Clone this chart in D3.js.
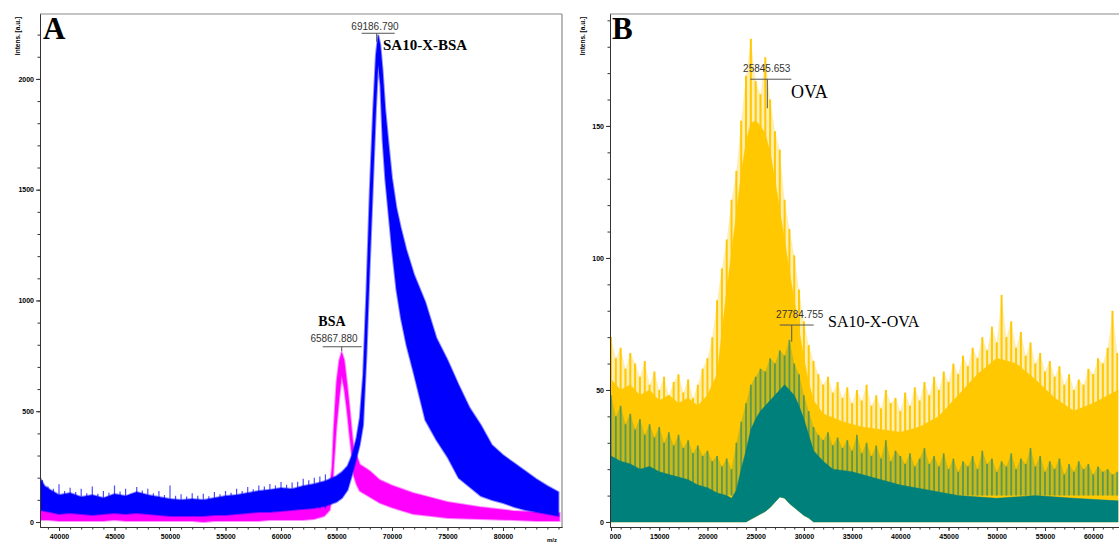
<!DOCTYPE html>
<html>
<head>
<meta charset="utf-8">
<script src="https://cdn.jsdelivr.net/npm/d3@7"></script>
<style>
  html, body { margin: 0; padding: 0; background: #fff; }
  svg { display: block; }
  .tick text { font-family: "Liberation Sans", Arial, sans-serif; font-size: 7px; font-weight: bold; fill: #000; }
  .axis path, .axis line { stroke: #333; }
</style>
</head>
<body>
<svg id="chart" width="1119" height="543"></svg>
<script>
// Data (panel A: BSA vs SA10-X-BSA, noise band low/high edges)
// ****
const blueMz = [38300, 38700, 39200, 40000, 41000, 42000, 43000, 44000, 45000, 46000, 47000, 48000, 49000, 50000, 51000, 52000, 53000, 54000, 55000, 56000, 57000, 58000, 59000, 60000, 61000, 62000, 63000, 64000, 65000, 65500, 66000, 66400, 66800, 67100, 67400, 67700, 68000, 68300, 68550, 68750, 68950, 69150, 69400, 69700, 70000, 70400, 70800, 71300, 72000, 73000, 74000, 75000, 76000, 77000, 78000, 79000, 80000, 81000, 82000, 83000, 84000, 85000]
const blueHi = [199, 163, 145, 122, 131, 113, 122, 108, 126, 117, 135, 122, 113, 104, 99, 104, 99, 108, 117, 122, 131, 140, 145, 153, 149, 163, 172, 185, 208, 226, 253, 302, 379, 470, 664, 1047, 1499, 1860, 2108, 2199, 2154, 2041, 1860, 1702, 1553, 1418, 1327, 1228, 1115, 993, 831, 731, 619, 515, 438, 348, 302, 266, 230, 194, 163, 135]
const blueLo = [54, 50, 45, 36, 41, 36, 32, 36, 41, 36, 41, 36, 32, 27, 27, 27, 27, 32, 32, 36, 41, 45, 45, 50, 54, 59, 63, 72, 90, 108, 144, 212, 289, 348, 438, 754, 1160, 1544, 1860, 2063, 1973, 1725, 1544, 1386, 1228, 1047, 921, 799, 664, 460, 370, 293, 199, 158, 117, 99, 86, 68, 54, 45, 36, 27]
// blue spike tips on the flat part, every 500 Da from 38500 to 64000
const blueSpikeMz = d3.range(38500, 64001, 500)
const blueSpike = [190, 160, 150, 170, 140, 155, 135, 150, 130, 160, 128, 140, 132, 165, 138, 150, 128, 158, 142, 150, 130, 140, 122, 165, 118, 125, 115, 130, 118, 128, 116, 135, 125, 140, 132, 150, 140, 158, 148, 165, 160, 172, 165, 180, 168, 178, 182, 195, 188, 200, 205, 215]

const bsaMz = [38300, 39000, 40000, 41000, 42000, 43000, 44000, 45000, 46000, 47000, 48000, 49000, 50000, 51000, 52000, 53000, 54000, 55000, 56000, 57000, 58000, 59000, 60000, 61000, 62000, 63000, 63900, 64400, 64600, 64750, 65000, 65250, 65470, 65700, 65950, 66200, 66400, 66550, 66800, 67100, 68000, 68900, 70000, 71900, 73500, 75000, 77900, 80900, 83000, 85100]
const bsaHi = [108, 90, 72, 63, 68, 59, 63, 72, 63, 68, 59, 63, 59, 54, 59, 54, 63, 59, 63, 68, 68, 72, 77, 77, 81, 90, 99, 158, 250, 420, 630, 730, 767, 730, 625, 505, 400, 325, 302, 260, 230, 190, 165, 131, 110, 90, 68, 50, 45, 41]
const bsaLo = [9, 9, 5, 5, 5, 5, 5, 9, 5, 5, 5, 5, 5, 5, 5, 0, 5, 5, 5, 5, 5, 9, 9, 9, 9, 14, 27, 54, 120, 250, 430, 560, 660, 600, 500, 380, 290, 210, 170, 140, 113, 86, 65, 36, 27, 18, 14, 9, 5, 5]

// Data (panel B: OVA vs SA10-X-OVA, dense body + spike tips)
// ****
const ovaMz = [10000, 11000, 12000, 13000, 14000, 15000, 16000, 17000, 18000, 19000, 20000, 21000, 21500, 22000, 22500, 23000, 23500, 24000, 24500, 25000, 25500, 26000, 26500, 27000, 27500, 28000, 28500, 29000, 29500, 30000, 30500, 31000, 32000, 34000, 36000, 38000, 40000, 42000, 44000, 46000, 48000, 50000, 52000, 54000, 56000, 58000, 60000, 62600]
const ovaBody = [54, 50, 52, 48, 50, 46, 48, 45, 47, 44, 48, 56, 72, 88, 102, 117, 132, 144, 151, 152, 150, 147, 140, 130, 118, 107, 95, 84, 73, 62, 53, 46, 41, 38, 36, 35, 34, 36, 40, 48, 56, 62, 60, 54, 47, 42, 45, 50]
const ovaLo = [0, 0, 0, 0, 0, 0, 0, 0, 0, 0, 0, 0, 0, 0, 0, 0, 0, 0, 1, 2, 3, 4, 5.5, 7.5, 9.5, 9, 7, 5.5, 4, 2.5, 1.5, 0, 0, 0, 0, 0, 0, 0, 0, 0, 0, 0, 0, 0, 0, 0, 0, 0]

const ovxMz = [10000, 11000, 12000, 13000, 14000, 15000, 16000, 17000, 18000, 19000, 20000, 21000, 22000, 22500, 23000, 23500, 24000, 24500, 25000, 25500, 26000, 26500, 27000, 27500, 28000, 28500, 29000, 29500, 30000, 30500, 31000, 32000, 33000, 35000, 38000, 40000, 43000, 46000, 50000, 54000, 58000, 62600]
const ovxBody = [25, 23, 22, 20, 21, 19, 18, 17, 16, 14, 13, 11, 10, 9, 12, 20, 27, 35, 39, 42, 44, 46, 48, 50, 52, 50, 48, 44, 39, 33, 27, 23, 20, 19, 16, 14, 12, 10, 9, 10, 9, 8]
const ovxLo = [0, 0, 0, 0, 0, 0, 0, 0, 0, 0, 0, 0, 0, 0, 0, 0, 0, 1, 2, 3, 4, 5.5, 7.5, 9.5, 9, 7, 5.5, 4, 2.5, 1.5, 0, 0, 0, 0, 0, 0, 0, 0, 0, 0, 0, 0]

// spike tips, one every 500 Da from 10000 to 62500
const spikeMz = d3.range(10000, 62501, 500)
const ovaSpike = [70, 62, 66, 58, 64, 60, 55, 61, 52, 57, 50, 55, 48, 53, 56, 49, 54, 47, 52, 58, 62, 70, 84, 96, 107, 122, 133, 152, 169, 183, 167, 162, 176, 160, 148, 141, 122, 111, 101, 88, 76, 67, 61, 56, 52, 55, 49, 53, 47, 51, 45, 50, 46, 52, 44, 48, 43, 50, 45, 47, 42, 49, 44, 51, 46, 53, 48, 55, 50, 57, 53, 60, 56, 63, 59, 66, 62, 70, 65, 74, 68, 86, 70, 76, 66, 72, 63, 68, 60, 64, 57, 61, 55, 59, 52, 56, 50, 54, 52, 58, 56, 62, 60, 66, 80, 64]
const ovxSpike = [48, 40, 44, 37, 41, 35, 39, 33, 37, 32, 36, 30, 34, 29, 33, 28, 31, 26, 29, 25, 27, 23, 25, 21, 24, 20, 30, 38, 45, 52, 55, 58, 57, 62, 60, 65, 63, 69, 60, 56, 48, 42, 36, 33, 31, 34, 29, 32, 28, 31, 27, 33, 26, 30, 25, 29, 24, 31, 23, 27, 25, 22, 26, 21, 24, 28, 22, 25, 21, 26, 20, 24, 19, 23, 21, 25, 20, 27, 22, 24, 19, 23, 21, 26, 20, 24, 22, 28, 21, 25, 19, 23, 20, 24, 18, 22, 19, 23, 20, 22, 18, 21, 19, 20, 18, 19]

// Peak annotations
const peakLabels = ["69186.790", "65867.880", "25845.653", "27784.755"]
const peakNames = ["SA10-X-BSA", "BSA", "OVA", "SA10-X-OVA"]
const peakMarkMz = [68620, 65470, 26210, 28740]
const peakLevel = [2206, 791, 167.7, 74.6]
const peakTickEnd = [2168, 772, 156.7, 68.3]

// Ticks
const ticksA_y = [0, 500, 1000, 1500, 2000]
const ticksA_x = [40000, 45000, 50000, 55000, 60000, 65000, 70000, 75000, 80000]
const ticksB_y = [0, 50, 100, 150]
const ticksB_x = [10000, 15000, 20000, 25000, 30000, 35000, 40000, 45000, 50000, 55000, 60000]

const zip = (mz, hi, lo) => mz.map((m, i) => ({mz: m, hi: hi[i], lo: lo[i]}))

const svg = d3.select("#chart")

// Panel builder
// *************
function panel(id, box, xDom, yDom, majX, minX, majY, minY) {
  const x = d3.scaleLinear().domain(xDom).range([box.left, box.right])
  const y = d3.scaleLinear().domain(yDom).range([box.bottom, box.top])
  const g = svg.append("g")

  g.append("clipPath").attr("id", "clip" + id)
    .append("rect")
      .attr("x", box.left + 0.5).attr("y", box.top)
      .attr("width", box.right - box.left - 1).attr("height", box.bottom - box.top - 1)

  const plot = g.append("g").attr("clip-path", "url(#clip" + id + ")")

  // frame (top + right)
  g.append("line").attr("x1", box.left).attr("x2", box.right).attr("y1", box.top).attr("y2", box.top)
    .attr("stroke", "#8a8a8a").attr("stroke-width", 1.2)
  if (box.frameRight) {
    g.append("line").attr("x1", box.right).attr("x2", box.right).attr("y1", box.top).attr("y2", box.bottom)
      .attr("stroke", "#8a8a8a").attr("stroke-width", 1.2)
  }

  // left axis
  g.append("g").attr("class", "axis")
    .attr("transform", "translate(" + box.left + ",0)")
    .call(d3.axisLeft(y).tickValues(minY).tickSize(2.5).tickSizeOuter(0).tickFormat(""))
  g.append("g").attr("class", "axis")
    .attr("transform", "translate(" + box.left + ",0)")
    .call(d3.axisLeft(y).tickValues(majY).tickSize(4).tickSizeOuter(0).tickPadding(2).tickFormat(d3.format("d")))

  // bottom axis
  g.append("g").attr("class", "axis")
    .attr("transform", "translate(0," + box.bottom + ")")
    .call(d3.axisBottom(x).tickValues(minX).tickSize(2.5).tickSizeOuter(0).tickFormat(""))
  const bx = g.append("g").attr("class", "axis")
    .attr("transform", "translate(0," + box.bottom + ")")
    .call(d3.axisBottom(x).tickValues(majX).tickSize(4).tickSizeOuter(0).tickPadding(3).tickFormat(d3.format("d")))
  if (box.clipLabels) {
    // labels are cut at the frame edge, as in the scanned figure
    g.append("clipPath").attr("id", "lab" + id)
      .append("rect").attr("x", box.left).attr("y", -2).attr("width", 600).attr("height", 20)
    bx.attr("clip-path", "url(#lab" + id + ")")
  }

  // y label
  g.append("text")
    .attr("transform", "translate(" + box.labelX + ",36) rotate(-90)")
    .attr("text-anchor", "middle")
    .style("font-family", "Liberation Sans, Arial, sans-serif")
    .style("font-size", "6.5px").style("font-weight", "bold")
    .text("Intens. [a.u.]")

  return {x, y, g, plot}
}

const A = panel("A", {left: 40, right: 562, top: 14, bottom: 527, frameRight: true, labelX: 20},
  [38288, 85315], [-22.6, 2293], ticksA_x, d3.range(39000, 85001, 1000), ticksA_y, d3.range(0, 2201, 100))
const B = panel("B", {left: 610, right: 1119, top: 14, bottom: 527, clipLabels: true, labelX: 585},
  [9896, 62675], [-1.9, 192.4], ticksB_x, d3.range(10000, 62001, 1000), ticksB_y, d3.range(0, 191, 10))

// Spectra
// *******
function band(p, data, color, edge) {
  const area = d3.area().x(d => p.x(d.mz)).y0(d => p.y(d.lo)).y1(d => p.y(d.hi))
  p.plot.append("path").datum(data).attr("d", area).attr("fill", color)
    .attr("stroke", color).attr("stroke-width", edge).attr("stroke-opacity", 0.45)
}
function spikes(p, mz, tips, base, color, opacity, w, halo) {
  const pts = mz.map((m, i) => ({mz: m, v: tips[i]}))
  if (halo) {
    // faint cloud joining the spike tips
    const area = d3.area().x(d => p.x(d.mz)).y0(p.y(base)).y1(d => p.y(d.v))
    p.plot.append("path").datum(pts).attr("d", area).attr("fill", color).attr("fill-opacity", halo)
  }
  p.plot.selectAll(null).data(pts)
    .enter().append("line")
      .attr("x1", d => p.x(d.mz)).attr("x2", d => p.x(d.mz))
      .attr("y1", p.y(base)).attr("y2", d => p.y(d.v))
      .attr("stroke", color).attr("stroke-width", w).attr("stroke-opacity", opacity)
}

band(A, zip(bsaMz, bsaHi, bsaLo), "#ff00ff", 2)
spikes(A, blueSpikeMz, blueSpike, 60, "#2020ff", 0.8, 1.2, 0)
band(A, zip(blueMz, blueHi, blueLo), "#0000ff", 2)

spikes(B, spikeMz, ovaSpike, 10, "#ffc800", 1, 2, 0.3)
band(B, zip(ovaMz, ovaBody, ovaLo), "#ffc800", 1)
spikes(B, spikeMz, ovxSpike, 10, "#00807a", 0.55, 1.8, 0.22)
band(B, zip(ovxMz, ovxBody, ovxLo), "#00807a", 1)

// Annotations
// ***********
const annLayout = [
  {p: A, l: -15, r: 18, tx: -1.7, ty: -3.3, nx: 6.3, ny: 16.7, font: "bold 15px"},
  {p: A, l: -19, r: 20, tx: -7.7, ty: -5, nx: -23.4, ny: -20.7, font: "bold 14px"},
  {p: B, l: -17, r: 24, tx: -0.6, ty: -7.6, nx: 23.7, ny: 18.7, font: "18px"},
  {p: B, l: -12, r: 22, tx: 8, ty: -6.7, nx: 36.3, ny: 2, font: "16px"}
]
annLayout.forEach((a, i) => {
  const g = svg.append("g")
  const cx = a.p.x(peakMarkMz[i]), cy = a.p.y(peakLevel[i])
  g.append("line").attr("x1", cx + a.l).attr("x2", cx + a.r).attr("y1", cy).attr("y2", cy)
    .attr("stroke", "#555").attr("stroke-width", 1)
  g.append("line").attr("x1", cx).attr("x2", cx).attr("y1", cy).attr("y2", a.p.y(peakTickEnd[i]))
    .attr("stroke", "#555").attr("stroke-width", 1)
  g.append("text").attr("x", cx + a.tx).attr("y", cy + a.ty)
    .attr("text-anchor", "middle")
    .style("font", "10px 'Liberation Sans', Arial, sans-serif").style("fill", "#333")
    .text(peakLabels[i])
  g.append("text").attr("x", cx + a.nx).attr("y", cy + a.ny)
    .style("font", a.font + " 'Liberation Serif', 'Times New Roman', serif").style("fill", "#000")
    .text(peakNames[i])
})

// Panel letters + m/z
// *******************
svg.append("text").attr("x", 43).attr("y", 39)
  .style("font", "bold 31px 'Liberation Serif', serif").text("A")
svg.append("text").attr("x", 612).attr("y", 39)
  .style("font", "bold 31px 'Liberation Serif', serif").text("B")
svg.append("text").attr("x", 547).attr("y", 542)
  .style("font", "bold 6px 'Liberation Sans', Arial, sans-serif").text("m/z")
</script>
</body>
</html>
